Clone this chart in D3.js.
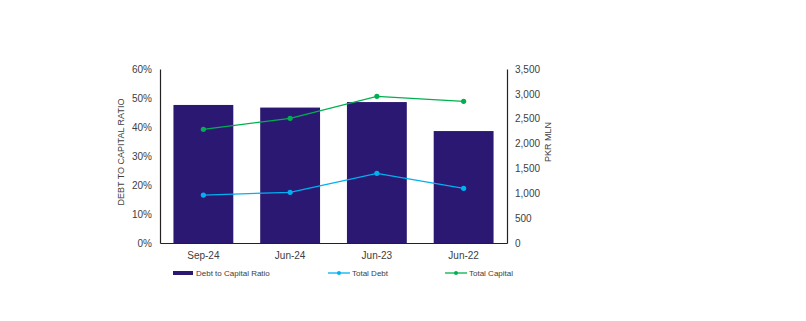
<!DOCTYPE html>
<html><head><meta charset="utf-8">
<script src="https://cdn.jsdelivr.net/npm/d3@7"></script>
<style>body{margin:0;background:#fff}svg{display:block;font-family:"Liberation Sans",Arial,sans-serif}</style>
</head><body><svg id="c" width="806" height="321"></svg>
<script>
const categories = ["Sep-24","Jun-24","Jun-23","Jun-22"];
const ratio = [47.6, 46.7, 48.6, 38.6];
const totalDebt = [965, 1020, 1402, 1100];
const totalCapital = [2287, 2508, 2951, 2850];
const leftTicks = [0,10,20,30,40,50,60];
const rightTicks = [0,500,1000,1500,2000,2500,3000,3500];

const svg = d3.select("#c");
const L=160, R=507, T=69, B=243;
const x = d3.scaleBand().domain(categories).range([L,R]).paddingInner(0.31).paddingOuter(0.155);
const yL = d3.scaleLinear().domain([0,60]).range([B,T]);
const yR = d3.scaleLinear().domain([0,3500]).range([B,T]);
const txt="#404040";

svg.selectAll("rect.bar").data(categories).join("rect").attr("class","bar")
  .attr("x",d=>x(d)).attr("width",x.bandwidth())
  .attr("y",(d,i)=>yL(ratio[i])).attr("height",(d,i)=>B-yL(ratio[i]))
  .attr("fill","#2b1872");

function series(vals,color){
  const line=d3.line().x((d,i)=>x(categories[i])+x.bandwidth()/2).y(d=>yR(d));
  svg.append("path").datum(vals).attr("d",line).attr("fill","none").attr("stroke",color).attr("stroke-width",1.3);
  svg.selectAll(null).data(vals).join("circle").attr("cx",(d,i)=>x(categories[i])+x.bandwidth()/2)
    .attr("cy",d=>yR(d)).attr("r",2.6).attr("fill",color);
}
series(totalDebt,"#00b0f0");
series(totalCapital,"#00b050");

const gl=svg.append("g").attr("transform",`translate(${L},0)`).call(d3.axisLeft(yL).tickValues(leftTicks).tickSize(0).tickPadding(8).tickFormat(d=>d+"%"));
const gr=svg.append("g").attr("transform",`translate(${R},0)`).call(d3.axisRight(yR).tickValues(rightTicks).tickSize(0).tickPadding(8).tickFormat(d3.format(",")));
const gb=svg.append("g").attr("transform",`translate(0,${B})`).call(d3.axisBottom(x).tickSize(0).tickPadding(9));
[gl,gr,gb].forEach(g=>{g.selectAll("path.domain").attr("stroke","#222").attr("stroke-width",1.2);g.selectAll("text").attr("fill",txt).attr("font-size","10px").attr("font-family","Liberation Sans, Arial, sans-serif");});

svg.append("text").attr("transform",`translate(124,152) rotate(-90)`).attr("text-anchor","middle")
  .attr("font-size","9px").attr("fill",txt).text("DEBT TO CAPITAL RATIO");
svg.append("text").attr("transform",`translate(551,142) rotate(-90)`).attr("text-anchor","middle")
  .attr("font-size","9px").attr("fill",txt).text("PKR MLN");

const leg=svg.append("g").attr("font-size","8px").attr("fill",txt);
leg.append("rect").attr("x",173).attr("y",271).attr("width",20).attr("height",4).attr("fill","#2b1872");
leg.append("text").attr("x",196).attr("y",276).text("Debt to Capital Ratio");
[[328,"#00b0f0","Total Debt"],[445,"#00b050","Total Capital"]].forEach(([lx,c,t])=>{
  leg.append("line").attr("x1",lx).attr("x2",lx+22).attr("y1",273).attr("y2",273).attr("stroke",c).attr("stroke-width",1.3);
  leg.append("circle").attr("cx",lx+11).attr("cy",273).attr("r",2).attr("fill",c);
  leg.append("text").attr("x",lx+24).attr("y",276).text(t);
});
</script></body></html>
